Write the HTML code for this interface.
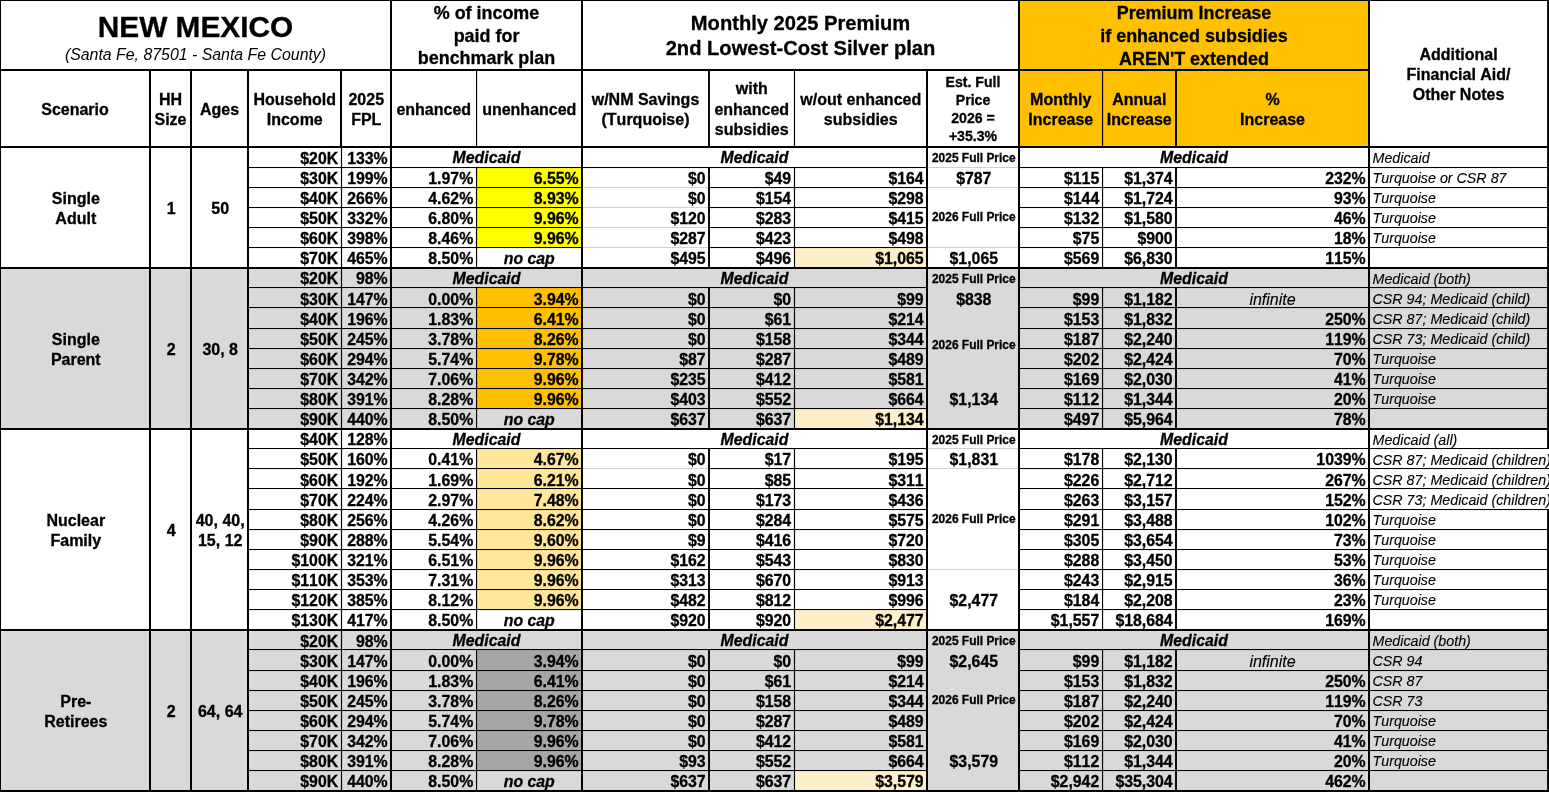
<!DOCTYPE html>
<html><head><meta charset="utf-8"><title>New Mexico</title>
<style>
html,body{margin:0;padding:0;background:#fff}
#p{filter:blur(0.4px);position:relative;width:1549px;height:792px;overflow:hidden;background:#fff;font-family:"Liberation Sans",sans-serif;color:#000}
#p svg{position:absolute;left:0;top:0}
.t{position:absolute;white-space:nowrap;box-sizing:border-box;font-kerning:none;font-variant-ligatures:none}
.b{font-weight:bold;-webkit-text-stroke:0.3px #000}.i{font-style:italic}
.n{-webkit-text-stroke:0.12px #000}
.c{text-align:center}.r{text-align:right}.l{text-align:left}
</style></head><body><div id="p">
<svg width="1549" height="792" viewBox="0 0 1549 792">
<rect x="1019.00" y="0.00" width="350.00" height="146.80" fill="#ffc000"/>
<rect x="476.55" y="167.12" width="105.45" height="80.47" fill="#ffff00"/>
<rect x="794.50" y="247.59" width="132.50" height="20.12" fill="#ffefc8"/>
<rect x="0.00" y="267.70" width="1549.00" height="160.94" fill="#d9d9d9"/>
<rect x="476.55" y="287.82" width="105.45" height="120.70" fill="#ffc000"/>
<rect x="794.50" y="408.52" width="132.50" height="20.12" fill="#ffefc8"/>
<rect x="476.55" y="448.75" width="105.45" height="160.94" fill="#ffe699"/>
<rect x="794.50" y="609.69" width="132.50" height="20.12" fill="#ffefc8"/>
<rect x="0.00" y="629.81" width="1549.00" height="160.94" fill="#d9d9d9"/>
<rect x="476.55" y="649.92" width="105.45" height="120.70" fill="#a6a6a6"/>
<rect x="794.50" y="770.63" width="132.50" height="20.12" fill="#ffefc8"/>
<rect x="582.00" y="187.00" width="127.00" height="1.00" fill="#d0d0d0"/>
<rect x="582.00" y="207.00" width="127.00" height="1.00" fill="#d0d0d0"/>
<rect x="582.00" y="227.00" width="127.00" height="1.00" fill="#d0d0d0"/>
<rect x="582.00" y="247.00" width="127.00" height="1.00" fill="#d0d0d0"/>
<rect x="927.00" y="167.00" width="92.00" height="1.00" fill="#d0d0d0"/>
<rect x="927.00" y="187.00" width="92.00" height="1.00" fill="#d0d0d0"/>
<rect x="927.00" y="247.00" width="92.00" height="1.00" fill="#d0d0d0"/>
<rect x="582.00" y="468.00" width="127.00" height="1.00" fill="#d0d0d0"/>
<rect x="927.00" y="448.00" width="92.00" height="1.00" fill="#d0d0d0"/>
<rect x="927.00" y="468.00" width="92.00" height="1.00" fill="#d0d0d0"/>
<rect x="927.00" y="569.00" width="92.00" height="1.00" fill="#d0d0d0"/>
<rect x="0.00" y="0.00" width="1549.00" height="1.00" fill="#000"/>
<rect x="0.00" y="790.00" width="1549.00" height="2.00" fill="#000"/>
<rect x="0.00" y="0.00" width="1.00" height="792.00" fill="#000"/>
<rect x="1547.10" y="0.00" width="1.90" height="448.75" fill="#000"/>
<rect x="1547.10" y="509.11" width="1.90" height="282.89" fill="#000"/>
<rect x="0.00" y="69.00" width="1369.00" height="2.00" fill="#000"/>
<rect x="0.00" y="146.00" width="1549.00" height="2.00" fill="#000"/>
<rect x="390.00" y="0.00" width="2.00" height="792.00" fill="#000"/>
<rect x="581.00" y="0.00" width="2.00" height="792.00" fill="#000"/>
<rect x="1018.00" y="0.00" width="2.00" height="792.00" fill="#000"/>
<rect x="1368.00" y="0.00" width="2.00" height="792.00" fill="#000"/>
<rect x="149.00" y="69.80" width="2.00" height="722.20" fill="#000"/>
<rect x="190.00" y="69.80" width="2.00" height="722.20" fill="#000"/>
<rect x="247.00" y="69.80" width="2.00" height="722.20" fill="#000"/>
<rect x="926.00" y="69.80" width="2.00" height="722.20" fill="#000"/>
<rect x="340.00" y="69.80" width="2.00" height="77.00" fill="#000"/>
<rect x="340.93" y="146.80" width="1.15" height="645.20" fill="#000"/>
<rect x="475.98" y="69.80" width="1.15" height="77.00" fill="#000"/>
<rect x="708.05" y="69.80" width="1.90" height="77.00" fill="#000"/>
<rect x="793.92" y="69.80" width="1.15" height="77.00" fill="#000"/>
<rect x="1101.97" y="69.80" width="1.15" height="77.00" fill="#000"/>
<rect x="1175.05" y="69.80" width="1.90" height="77.00" fill="#000"/>
<rect x="248.00" y="167.00" width="334.00" height="1.05" fill="#000"/>
<rect x="582.00" y="167.00" width="127.00" height="1.05" fill="#000"/>
<rect x="709.00" y="167.00" width="218.00" height="1.05" fill="#000"/>
<rect x="1019.00" y="167.00" width="530.00" height="1.05" fill="#000"/>
<rect x="248.00" y="187.00" width="334.00" height="1.05" fill="#000"/>
<rect x="709.00" y="187.00" width="218.00" height="1.05" fill="#000"/>
<rect x="1019.00" y="187.00" width="530.00" height="1.05" fill="#000"/>
<rect x="248.00" y="207.00" width="334.00" height="1.05" fill="#000"/>
<rect x="709.00" y="207.00" width="218.00" height="1.05" fill="#000"/>
<rect x="1019.00" y="207.00" width="530.00" height="1.05" fill="#000"/>
<rect x="248.00" y="227.00" width="334.00" height="1.05" fill="#000"/>
<rect x="709.00" y="227.00" width="218.00" height="1.05" fill="#000"/>
<rect x="1019.00" y="227.00" width="530.00" height="1.05" fill="#000"/>
<rect x="248.00" y="247.00" width="334.00" height="1.05" fill="#000"/>
<rect x="709.00" y="247.00" width="218.00" height="1.05" fill="#000"/>
<rect x="1019.00" y="247.00" width="530.00" height="1.05" fill="#000"/>
<rect x="475.98" y="167.12" width="1.15" height="100.59" fill="#000"/>
<rect x="708.05" y="167.12" width="1.90" height="100.59" fill="#000"/>
<rect x="793.92" y="167.12" width="1.15" height="100.59" fill="#000"/>
<rect x="1101.97" y="167.12" width="1.15" height="100.59" fill="#000"/>
<rect x="1175.05" y="167.12" width="1.90" height="100.59" fill="#000"/>
<rect x="0.00" y="267.00" width="1549.00" height="2.00" fill="#000"/>
<rect x="248.00" y="287.00" width="334.00" height="1.05" fill="#000"/>
<rect x="582.00" y="287.00" width="127.00" height="1.05" fill="#000"/>
<rect x="709.00" y="287.00" width="218.00" height="1.05" fill="#000"/>
<rect x="1019.00" y="287.00" width="530.00" height="1.05" fill="#000"/>
<rect x="248.00" y="307.00" width="334.00" height="1.05" fill="#000"/>
<rect x="582.00" y="307.00" width="127.00" height="1.05" fill="#000"/>
<rect x="709.00" y="307.00" width="218.00" height="1.05" fill="#000"/>
<rect x="1019.00" y="307.00" width="530.00" height="1.05" fill="#000"/>
<rect x="248.00" y="328.00" width="334.00" height="1.05" fill="#000"/>
<rect x="582.00" y="328.00" width="127.00" height="1.05" fill="#000"/>
<rect x="709.00" y="328.00" width="218.00" height="1.05" fill="#000"/>
<rect x="1019.00" y="328.00" width="530.00" height="1.05" fill="#000"/>
<rect x="248.00" y="348.00" width="334.00" height="1.05" fill="#000"/>
<rect x="582.00" y="348.00" width="127.00" height="1.05" fill="#000"/>
<rect x="709.00" y="348.00" width="218.00" height="1.05" fill="#000"/>
<rect x="1019.00" y="348.00" width="530.00" height="1.05" fill="#000"/>
<rect x="248.00" y="368.00" width="334.00" height="1.05" fill="#000"/>
<rect x="582.00" y="368.00" width="127.00" height="1.05" fill="#000"/>
<rect x="709.00" y="368.00" width="218.00" height="1.05" fill="#000"/>
<rect x="1019.00" y="368.00" width="530.00" height="1.05" fill="#000"/>
<rect x="248.00" y="388.00" width="334.00" height="1.05" fill="#000"/>
<rect x="582.00" y="388.00" width="127.00" height="1.05" fill="#000"/>
<rect x="709.00" y="388.00" width="218.00" height="1.05" fill="#000"/>
<rect x="1019.00" y="388.00" width="530.00" height="1.05" fill="#000"/>
<rect x="248.00" y="408.00" width="334.00" height="1.05" fill="#000"/>
<rect x="582.00" y="408.00" width="127.00" height="1.05" fill="#000"/>
<rect x="709.00" y="408.00" width="218.00" height="1.05" fill="#000"/>
<rect x="1019.00" y="408.00" width="530.00" height="1.05" fill="#000"/>
<rect x="475.98" y="287.82" width="1.15" height="140.82" fill="#000"/>
<rect x="708.05" y="287.82" width="1.90" height="140.82" fill="#000"/>
<rect x="793.92" y="287.82" width="1.15" height="140.82" fill="#000"/>
<rect x="1101.97" y="287.82" width="1.15" height="140.82" fill="#000"/>
<rect x="1175.05" y="287.82" width="1.90" height="140.82" fill="#000"/>
<rect x="0.00" y="428.00" width="1549.00" height="2.00" fill="#000"/>
<rect x="248.00" y="448.00" width="334.00" height="1.05" fill="#000"/>
<rect x="582.00" y="448.00" width="127.00" height="1.05" fill="#000"/>
<rect x="709.00" y="448.00" width="218.00" height="1.05" fill="#000"/>
<rect x="1019.00" y="448.00" width="530.00" height="1.05" fill="#000"/>
<rect x="248.00" y="468.00" width="334.00" height="1.05" fill="#000"/>
<rect x="709.00" y="468.00" width="218.00" height="1.05" fill="#000"/>
<rect x="1019.00" y="468.00" width="530.00" height="1.05" fill="#000"/>
<rect x="248.00" y="488.00" width="334.00" height="1.05" fill="#000"/>
<rect x="582.00" y="488.00" width="127.00" height="1.05" fill="#000"/>
<rect x="709.00" y="488.00" width="218.00" height="1.05" fill="#000"/>
<rect x="1019.00" y="488.00" width="530.00" height="1.05" fill="#000"/>
<rect x="248.00" y="509.00" width="334.00" height="1.05" fill="#000"/>
<rect x="582.00" y="509.00" width="127.00" height="1.05" fill="#000"/>
<rect x="709.00" y="509.00" width="218.00" height="1.05" fill="#000"/>
<rect x="1019.00" y="509.00" width="530.00" height="1.05" fill="#000"/>
<rect x="248.00" y="529.00" width="334.00" height="1.05" fill="#000"/>
<rect x="582.00" y="529.00" width="127.00" height="1.05" fill="#000"/>
<rect x="709.00" y="529.00" width="218.00" height="1.05" fill="#000"/>
<rect x="1019.00" y="529.00" width="530.00" height="1.05" fill="#000"/>
<rect x="248.00" y="549.00" width="334.00" height="1.05" fill="#000"/>
<rect x="582.00" y="549.00" width="127.00" height="1.05" fill="#000"/>
<rect x="709.00" y="549.00" width="218.00" height="1.05" fill="#000"/>
<rect x="1019.00" y="549.00" width="530.00" height="1.05" fill="#000"/>
<rect x="248.00" y="569.00" width="334.00" height="1.05" fill="#000"/>
<rect x="582.00" y="569.00" width="127.00" height="1.05" fill="#000"/>
<rect x="709.00" y="569.00" width="218.00" height="1.05" fill="#000"/>
<rect x="1019.00" y="569.00" width="530.00" height="1.05" fill="#000"/>
<rect x="248.00" y="589.00" width="334.00" height="1.05" fill="#000"/>
<rect x="582.00" y="589.00" width="127.00" height="1.05" fill="#000"/>
<rect x="709.00" y="589.00" width="218.00" height="1.05" fill="#000"/>
<rect x="1019.00" y="589.00" width="530.00" height="1.05" fill="#000"/>
<rect x="248.00" y="609.00" width="334.00" height="1.05" fill="#000"/>
<rect x="582.00" y="609.00" width="127.00" height="1.05" fill="#000"/>
<rect x="709.00" y="609.00" width="218.00" height="1.05" fill="#000"/>
<rect x="1019.00" y="609.00" width="530.00" height="1.05" fill="#000"/>
<rect x="475.98" y="448.75" width="1.15" height="181.05" fill="#000"/>
<rect x="708.05" y="448.75" width="1.90" height="181.05" fill="#000"/>
<rect x="793.92" y="448.75" width="1.15" height="181.05" fill="#000"/>
<rect x="1101.97" y="448.75" width="1.15" height="181.05" fill="#000"/>
<rect x="1175.05" y="448.75" width="1.90" height="181.05" fill="#000"/>
<rect x="0.00" y="629.00" width="1549.00" height="2.00" fill="#000"/>
<rect x="248.00" y="649.00" width="334.00" height="1.05" fill="#000"/>
<rect x="582.00" y="649.00" width="127.00" height="1.05" fill="#000"/>
<rect x="709.00" y="649.00" width="218.00" height="1.05" fill="#000"/>
<rect x="1019.00" y="649.00" width="530.00" height="1.05" fill="#000"/>
<rect x="248.00" y="670.00" width="334.00" height="1.05" fill="#000"/>
<rect x="582.00" y="670.00" width="127.00" height="1.05" fill="#000"/>
<rect x="709.00" y="670.00" width="218.00" height="1.05" fill="#000"/>
<rect x="1019.00" y="670.00" width="530.00" height="1.05" fill="#000"/>
<rect x="248.00" y="690.00" width="334.00" height="1.05" fill="#000"/>
<rect x="582.00" y="690.00" width="127.00" height="1.05" fill="#000"/>
<rect x="709.00" y="690.00" width="218.00" height="1.05" fill="#000"/>
<rect x="1019.00" y="690.00" width="530.00" height="1.05" fill="#000"/>
<rect x="248.00" y="710.00" width="334.00" height="1.05" fill="#000"/>
<rect x="582.00" y="710.00" width="127.00" height="1.05" fill="#000"/>
<rect x="709.00" y="710.00" width="218.00" height="1.05" fill="#000"/>
<rect x="1019.00" y="710.00" width="530.00" height="1.05" fill="#000"/>
<rect x="248.00" y="730.00" width="334.00" height="1.05" fill="#000"/>
<rect x="582.00" y="730.00" width="127.00" height="1.05" fill="#000"/>
<rect x="709.00" y="730.00" width="218.00" height="1.05" fill="#000"/>
<rect x="1019.00" y="730.00" width="530.00" height="1.05" fill="#000"/>
<rect x="248.00" y="750.00" width="334.00" height="1.05" fill="#000"/>
<rect x="582.00" y="750.00" width="127.00" height="1.05" fill="#000"/>
<rect x="709.00" y="750.00" width="218.00" height="1.05" fill="#000"/>
<rect x="1019.00" y="750.00" width="530.00" height="1.05" fill="#000"/>
<rect x="248.00" y="770.00" width="334.00" height="1.05" fill="#000"/>
<rect x="582.00" y="770.00" width="127.00" height="1.05" fill="#000"/>
<rect x="709.00" y="770.00" width="218.00" height="1.05" fill="#000"/>
<rect x="1019.00" y="770.00" width="530.00" height="1.05" fill="#000"/>
<rect x="475.98" y="649.92" width="1.15" height="140.82" fill="#000"/>
<rect x="708.05" y="649.92" width="1.90" height="140.82" fill="#000"/>
<rect x="793.92" y="649.92" width="1.15" height="140.82" fill="#000"/>
<rect x="1101.97" y="649.92" width="1.15" height="140.82" fill="#000"/>
<rect x="1175.05" y="649.92" width="1.90" height="140.82" fill="#000"/>
</svg>
<div class="t b c" style="left:0.00px;top:9px;width:391.00px;font-size:29.85px;line-height:35px;">NEW MEXICO</div>
<div class="t i c" style="left:0.00px;top:45px;width:391.00px;font-size:15.88px;line-height:19px;">(Santa Fe, 87501 - Santa Fe County)</div>
<div class="t b c" style="left:391.00px;top:2px;width:191.00px;font-size:17.93px;line-height:22px;">% of income</div>
<div class="t b c" style="left:391.00px;top:25px;width:191.00px;font-size:17.93px;line-height:22px;">paid for</div>
<div class="t b c" style="left:391.00px;top:47px;width:191.00px;font-size:17.93px;line-height:22px;">benchmark plan</div>
<div class="t b c" style="left:582.00px;top:11px;width:437.00px;font-size:20.15px;line-height:24px;">Monthly 2025 Premium</div>
<div class="t b c" style="left:582.00px;top:36px;width:437.00px;font-size:20.15px;line-height:24px;">2nd Lowest-Cost Silver plan</div>
<div class="t b c" style="left:1019.00px;top:2px;width:350.00px;font-size:17.97px;line-height:22px;">Premium Increase</div>
<div class="t b c" style="left:1019.00px;top:25px;width:350.00px;font-size:17.97px;line-height:22px;">if enhanced subsidies</div>
<div class="t b c" style="left:1019.00px;top:48px;width:350.00px;font-size:17.97px;line-height:22px;">AREN'T extended</div>
<div class="t b c" style="left:1369.00px;top:45px;width:179.00px;font-size:16.0px;line-height:19px;">Additional</div>
<div class="t b c" style="left:1369.00px;top:65px;width:179.00px;font-size:16.0px;line-height:19px;">Financial Aid/</div>
<div class="t b c" style="left:1369.00px;top:85px;width:179.00px;font-size:16.0px;line-height:19px;">Other Notes</div>
<div class="t b c" style="left:0.00px;top:100px;width:150.00px;font-size:16.0px;line-height:19px;">Scenario</div>
<div class="t b c" style="left:150.00px;top:90px;width:41.00px;font-size:16.0px;line-height:19px;">HH</div>
<div class="t b c" style="left:150.00px;top:110px;width:41.00px;font-size:16.0px;line-height:19px;">Size</div>
<div class="t b c" style="left:191.00px;top:100px;width:57.00px;font-size:16.0px;line-height:19px;">Ages</div>
<div class="t b c" style="left:248.00px;top:90px;width:93.50px;font-size:16.0px;line-height:19px;">Household</div>
<div class="t b c" style="left:248.00px;top:110px;width:93.50px;font-size:16.0px;line-height:19px;">Income</div>
<div class="t b c" style="left:341.50px;top:90px;width:49.50px;font-size:16.0px;line-height:19px;">2025</div>
<div class="t b c" style="left:341.50px;top:110px;width:49.50px;font-size:16.0px;line-height:19px;">FPL</div>
<div class="t b c" style="left:391.00px;top:100px;width:85.55px;font-size:16.0px;line-height:19px;">enhanced</div>
<div class="t b c" style="left:476.55px;top:100px;width:105.45px;font-size:16.0px;line-height:19px;">unenhanced</div>
<div class="t b c" style="left:582.00px;top:90px;width:127.00px;font-size:16.0px;line-height:19px;">w/NM Savings</div>
<div class="t b c" style="left:582.00px;top:110px;width:127.00px;font-size:16.0px;line-height:19px;">(Turquoise)</div>
<div class="t b c" style="left:709.00px;top:79px;width:85.50px;font-size:16.0px;line-height:19px;">with</div>
<div class="t b c" style="left:709.00px;top:100px;width:85.50px;font-size:16.0px;line-height:19px;">enhanced</div>
<div class="t b c" style="left:709.00px;top:120px;width:85.50px;font-size:16.0px;line-height:19px;">subsidies</div>
<div class="t b c" style="left:794.50px;top:90px;width:132.50px;font-size:16.0px;line-height:19px;">w/out enhanced</div>
<div class="t b c" style="left:794.50px;top:110px;width:132.50px;font-size:16.0px;line-height:19px;">subsidies</div>
<div class="t b c" style="left:1019.00px;top:90px;width:83.55px;font-size:16.0px;line-height:19px;">Monthly</div>
<div class="t b c" style="left:1019.00px;top:110px;width:83.55px;font-size:16.0px;line-height:19px;">Increase</div>
<div class="t b c" style="left:1102.55px;top:90px;width:73.45px;font-size:16.0px;line-height:19px;">Annual</div>
<div class="t b c" style="left:1102.55px;top:110px;width:73.45px;font-size:16.0px;line-height:19px;">Increase</div>
<div class="t b c" style="left:1176.00px;top:90px;width:193.00px;font-size:16.0px;line-height:19px;">%</div>
<div class="t b c" style="left:1176.00px;top:110px;width:193.00px;font-size:16.0px;line-height:19px;">Increase</div>
<div class="t b c" style="left:927.00px;top:73px;width:92.00px;font-size:14.1px;line-height:18px;">Est. Full</div>
<div class="t b c" style="left:927.00px;top:91px;width:92.00px;font-size:14.1px;line-height:18px;">Price</div>
<div class="t b c" style="left:927.00px;top:109px;width:92.00px;font-size:14.1px;line-height:18px;">2026 =</div>
<div class="t b c" style="left:927.00px;top:127px;width:92.00px;font-size:14.1px;line-height:18px;">+35.3%</div>
<div class="t b c" style="left:0.80px;top:189px;width:150.00px;font-size:16.0px;line-height:19px;">Single</div>
<div class="t b c" style="left:0.80px;top:209px;width:150.00px;font-size:16.0px;line-height:19px;">Adult</div>
<div class="t b c" style="left:150.80px;top:199px;width:41.00px;font-size:16.0px;line-height:19px;">1</div>
<div class="t b c" style="left:191.70px;top:199px;width:57.00px;font-size:16.0px;line-height:19px;">50</div>
<div class="t b r" style="left:248.00px;top:149px;width:90.20px;font-size:15.85px;line-height:19px;">$20K</div>
<div class="t b r" style="left:341.50px;top:149px;width:46.20px;font-size:15.85px;line-height:19px;">133%</div>
<div class="t b i c" style="left:391.00px;top:148px;width:191.00px;font-size:15.85px;line-height:19px;">Medicaid</div>
<div class="t b i c" style="left:582.00px;top:148px;width:345.00px;font-size:15.85px;line-height:19px;">Medicaid</div>
<div class="t b i c" style="left:1019.00px;top:148px;width:350.00px;font-size:15.85px;line-height:19px;">Medicaid</div>
<div class="t i l n" style="left:1372.50px;top:149px;width:176.50px;font-size:14.28px;line-height:18px;">Medicaid</div>
<div class="t b r" style="left:248.00px;top:169px;width:90.20px;font-size:15.85px;line-height:19px;">$30K</div>
<div class="t b r" style="left:341.50px;top:169px;width:46.20px;font-size:15.85px;line-height:19px;">199%</div>
<div class="t b r" style="left:391.00px;top:169px;width:82.25px;font-size:15.85px;line-height:19px;">1.97%</div>
<div class="t b r" style="left:476.55px;top:169px;width:102.15px;font-size:15.85px;line-height:19px;">6.55%</div>
<div class="t b r" style="left:582.00px;top:169px;width:123.70px;font-size:15.85px;line-height:19px;">$0</div>
<div class="t b r" style="left:709.00px;top:169px;width:82.20px;font-size:15.85px;line-height:19px;">$49</div>
<div class="t b r" style="left:794.50px;top:169px;width:129.20px;font-size:15.85px;line-height:19px;">$164</div>
<div class="t b r" style="left:1019.00px;top:169px;width:80.25px;font-size:15.85px;line-height:19px;">$115</div>
<div class="t b r" style="left:1102.55px;top:169px;width:70.15px;font-size:15.85px;line-height:19px;">$1,374</div>
<div class="t b r" style="left:1176.00px;top:169px;width:189.70px;font-size:15.85px;line-height:19px;">232%</div>
<div class="t i l n" style="left:1372.50px;top:169px;width:236.50px;font-size:14.28px;line-height:18px;">Turquoise or CSR 87</div>
<div class="t b r" style="left:248.00px;top:189px;width:90.20px;font-size:15.85px;line-height:19px;">$40K</div>
<div class="t b r" style="left:341.50px;top:189px;width:46.20px;font-size:15.85px;line-height:19px;">266%</div>
<div class="t b r" style="left:391.00px;top:189px;width:82.25px;font-size:15.85px;line-height:19px;">4.62%</div>
<div class="t b r" style="left:476.55px;top:189px;width:102.15px;font-size:15.85px;line-height:19px;">8.93%</div>
<div class="t b r" style="left:582.00px;top:189px;width:123.70px;font-size:15.85px;line-height:19px;">$0</div>
<div class="t b r" style="left:709.00px;top:189px;width:82.20px;font-size:15.85px;line-height:19px;">$154</div>
<div class="t b r" style="left:794.50px;top:189px;width:129.20px;font-size:15.85px;line-height:19px;">$298</div>
<div class="t b r" style="left:1019.00px;top:189px;width:80.25px;font-size:15.85px;line-height:19px;">$144</div>
<div class="t b r" style="left:1102.55px;top:189px;width:70.15px;font-size:15.85px;line-height:19px;">$1,724</div>
<div class="t b r" style="left:1176.00px;top:189px;width:189.70px;font-size:15.85px;line-height:19px;">93%</div>
<div class="t i l n" style="left:1372.50px;top:189px;width:236.50px;font-size:14.28px;line-height:18px;">Turquoise</div>
<div class="t b r" style="left:248.00px;top:209px;width:90.20px;font-size:15.85px;line-height:19px;">$50K</div>
<div class="t b r" style="left:341.50px;top:209px;width:46.20px;font-size:15.85px;line-height:19px;">332%</div>
<div class="t b r" style="left:391.00px;top:209px;width:82.25px;font-size:15.85px;line-height:19px;">6.80%</div>
<div class="t b r" style="left:476.55px;top:209px;width:102.15px;font-size:15.85px;line-height:19px;">9.96%</div>
<div class="t b r" style="left:582.00px;top:209px;width:123.70px;font-size:15.85px;line-height:19px;">$120</div>
<div class="t b r" style="left:709.00px;top:209px;width:82.20px;font-size:15.85px;line-height:19px;">$283</div>
<div class="t b r" style="left:794.50px;top:209px;width:129.20px;font-size:15.85px;line-height:19px;">$415</div>
<div class="t b r" style="left:1019.00px;top:209px;width:80.25px;font-size:15.85px;line-height:19px;">$132</div>
<div class="t b r" style="left:1102.55px;top:209px;width:70.15px;font-size:15.85px;line-height:19px;">$1,580</div>
<div class="t b r" style="left:1176.00px;top:209px;width:189.70px;font-size:15.85px;line-height:19px;">46%</div>
<div class="t i l n" style="left:1372.50px;top:209px;width:236.50px;font-size:14.28px;line-height:18px;">Turquoise</div>
<div class="t b r" style="left:248.00px;top:229px;width:90.20px;font-size:15.85px;line-height:19px;">$60K</div>
<div class="t b r" style="left:341.50px;top:229px;width:46.20px;font-size:15.85px;line-height:19px;">398%</div>
<div class="t b r" style="left:391.00px;top:229px;width:82.25px;font-size:15.85px;line-height:19px;">8.46%</div>
<div class="t b r" style="left:476.55px;top:229px;width:102.15px;font-size:15.85px;line-height:19px;">9.96%</div>
<div class="t b r" style="left:582.00px;top:229px;width:123.70px;font-size:15.85px;line-height:19px;">$287</div>
<div class="t b r" style="left:709.00px;top:229px;width:82.20px;font-size:15.85px;line-height:19px;">$423</div>
<div class="t b r" style="left:794.50px;top:229px;width:129.20px;font-size:15.85px;line-height:19px;">$498</div>
<div class="t b r" style="left:1019.00px;top:229px;width:80.25px;font-size:15.85px;line-height:19px;">$75</div>
<div class="t b r" style="left:1102.55px;top:229px;width:70.15px;font-size:15.85px;line-height:19px;">$900</div>
<div class="t b r" style="left:1176.00px;top:229px;width:189.70px;font-size:15.85px;line-height:19px;">18%</div>
<div class="t i l n" style="left:1372.50px;top:229px;width:236.50px;font-size:14.28px;line-height:18px;">Turquoise</div>
<div class="t b r" style="left:248.00px;top:249px;width:90.20px;font-size:15.85px;line-height:19px;">$70K</div>
<div class="t b r" style="left:341.50px;top:249px;width:46.20px;font-size:15.85px;line-height:19px;">465%</div>
<div class="t b r" style="left:391.00px;top:249px;width:82.25px;font-size:15.85px;line-height:19px;">8.50%</div>
<div class="t b i c" style="left:476.55px;top:249px;width:105.45px;font-size:15.85px;line-height:19px;">no cap</div>
<div class="t b r" style="left:582.00px;top:249px;width:123.70px;font-size:15.85px;line-height:19px;">$495</div>
<div class="t b r" style="left:709.00px;top:249px;width:82.20px;font-size:15.85px;line-height:19px;">$496</div>
<div class="t b r" style="left:794.50px;top:249px;width:129.20px;font-size:15.85px;line-height:19px;">$1,065</div>
<div class="t b r" style="left:1019.00px;top:249px;width:80.25px;font-size:15.85px;line-height:19px;">$569</div>
<div class="t b r" style="left:1102.55px;top:249px;width:70.15px;font-size:15.85px;line-height:19px;">$6,830</div>
<div class="t b r" style="left:1176.00px;top:249px;width:189.70px;font-size:15.85px;line-height:19px;">115%</div>
<div class="t b c" style="left:927.80px;top:150px;width:92.00px;font-size:11.95px;line-height:16px;">2025 Full Price</div>
<div class="t b c" style="left:927.80px;top:169px;width:92.00px;font-size:15.85px;line-height:19px;">$787</div>
<div class="t b c" style="left:927.80px;top:209px;width:92.00px;font-size:11.95px;line-height:16px;">2026 Full Price</div>
<div class="t b c" style="left:927.80px;top:249px;width:92.00px;font-size:15.85px;line-height:19px;">$1,065</div>
<div class="t b c" style="left:0.80px;top:330px;width:150.00px;font-size:16.0px;line-height:19px;">Single</div>
<div class="t b c" style="left:0.80px;top:350px;width:150.00px;font-size:16.0px;line-height:19px;">Parent</div>
<div class="t b c" style="left:150.80px;top:340px;width:41.00px;font-size:16.0px;line-height:19px;">2</div>
<div class="t b c" style="left:191.70px;top:340px;width:57.00px;font-size:16.0px;line-height:19px;">30, 8</div>
<div class="t b r" style="left:248.00px;top:269px;width:90.20px;font-size:15.85px;line-height:19px;">$20K</div>
<div class="t b r" style="left:341.50px;top:269px;width:46.20px;font-size:15.85px;line-height:19px;">98%</div>
<div class="t b i c" style="left:391.00px;top:269px;width:191.00px;font-size:15.85px;line-height:19px;">Medicaid</div>
<div class="t b i c" style="left:582.00px;top:269px;width:345.00px;font-size:15.85px;line-height:19px;">Medicaid</div>
<div class="t b i c" style="left:1019.00px;top:269px;width:350.00px;font-size:15.85px;line-height:19px;">Medicaid</div>
<div class="t i l n" style="left:1372.50px;top:270px;width:176.50px;font-size:14.28px;line-height:18px;">Medicaid (both)</div>
<div class="t b r" style="left:248.00px;top:290px;width:90.20px;font-size:15.85px;line-height:19px;">$30K</div>
<div class="t b r" style="left:341.50px;top:290px;width:46.20px;font-size:15.85px;line-height:19px;">147%</div>
<div class="t b r" style="left:391.00px;top:290px;width:82.25px;font-size:15.85px;line-height:19px;">0.00%</div>
<div class="t b r" style="left:476.55px;top:290px;width:102.15px;font-size:15.85px;line-height:19px;">3.94%</div>
<div class="t b r" style="left:582.00px;top:290px;width:123.70px;font-size:15.85px;line-height:19px;">$0</div>
<div class="t b r" style="left:709.00px;top:290px;width:82.20px;font-size:15.85px;line-height:19px;">$0</div>
<div class="t b r" style="left:794.50px;top:290px;width:129.20px;font-size:15.85px;line-height:19px;">$99</div>
<div class="t b r" style="left:1019.00px;top:290px;width:80.25px;font-size:15.85px;line-height:19px;">$99</div>
<div class="t b r" style="left:1102.55px;top:290px;width:70.15px;font-size:15.85px;line-height:19px;">$1,182</div>
<div class="t i c n" style="left:1176.00px;top:290px;width:193.00px;font-size:16.0px;line-height:19px;">infinite</div>
<div class="t i l n" style="left:1372.50px;top:290px;width:236.50px;font-size:14.28px;line-height:18px;">CSR 94; Medicaid (child)</div>
<div class="t b r" style="left:248.00px;top:310px;width:90.20px;font-size:15.85px;line-height:19px;">$40K</div>
<div class="t b r" style="left:341.50px;top:310px;width:46.20px;font-size:15.85px;line-height:19px;">196%</div>
<div class="t b r" style="left:391.00px;top:310px;width:82.25px;font-size:15.85px;line-height:19px;">1.83%</div>
<div class="t b r" style="left:476.55px;top:310px;width:102.15px;font-size:15.85px;line-height:19px;">6.41%</div>
<div class="t b r" style="left:582.00px;top:310px;width:123.70px;font-size:15.85px;line-height:19px;">$0</div>
<div class="t b r" style="left:709.00px;top:310px;width:82.20px;font-size:15.85px;line-height:19px;">$61</div>
<div class="t b r" style="left:794.50px;top:310px;width:129.20px;font-size:15.85px;line-height:19px;">$214</div>
<div class="t b r" style="left:1019.00px;top:310px;width:80.25px;font-size:15.85px;line-height:19px;">$153</div>
<div class="t b r" style="left:1102.55px;top:310px;width:70.15px;font-size:15.85px;line-height:19px;">$1,832</div>
<div class="t b r" style="left:1176.00px;top:310px;width:189.70px;font-size:15.85px;line-height:19px;">250%</div>
<div class="t i l n" style="left:1372.50px;top:310px;width:236.50px;font-size:14.28px;line-height:18px;">CSR 87; Medicaid (child)</div>
<div class="t b r" style="left:248.00px;top:330px;width:90.20px;font-size:15.85px;line-height:19px;">$50K</div>
<div class="t b r" style="left:341.50px;top:330px;width:46.20px;font-size:15.85px;line-height:19px;">245%</div>
<div class="t b r" style="left:391.00px;top:330px;width:82.25px;font-size:15.85px;line-height:19px;">3.78%</div>
<div class="t b r" style="left:476.55px;top:330px;width:102.15px;font-size:15.85px;line-height:19px;">8.26%</div>
<div class="t b r" style="left:582.00px;top:330px;width:123.70px;font-size:15.85px;line-height:19px;">$0</div>
<div class="t b r" style="left:709.00px;top:330px;width:82.20px;font-size:15.85px;line-height:19px;">$158</div>
<div class="t b r" style="left:794.50px;top:330px;width:129.20px;font-size:15.85px;line-height:19px;">$344</div>
<div class="t b r" style="left:1019.00px;top:330px;width:80.25px;font-size:15.85px;line-height:19px;">$187</div>
<div class="t b r" style="left:1102.55px;top:330px;width:70.15px;font-size:15.85px;line-height:19px;">$2,240</div>
<div class="t b r" style="left:1176.00px;top:330px;width:189.70px;font-size:15.85px;line-height:19px;">119%</div>
<div class="t i l n" style="left:1372.50px;top:330px;width:236.50px;font-size:14.28px;line-height:18px;">CSR 73; Medicaid (child)</div>
<div class="t b r" style="left:248.00px;top:350px;width:90.20px;font-size:15.85px;line-height:19px;">$60K</div>
<div class="t b r" style="left:341.50px;top:350px;width:46.20px;font-size:15.85px;line-height:19px;">294%</div>
<div class="t b r" style="left:391.00px;top:350px;width:82.25px;font-size:15.85px;line-height:19px;">5.74%</div>
<div class="t b r" style="left:476.55px;top:350px;width:102.15px;font-size:15.85px;line-height:19px;">9.78%</div>
<div class="t b r" style="left:582.00px;top:350px;width:123.70px;font-size:15.85px;line-height:19px;">$87</div>
<div class="t b r" style="left:709.00px;top:350px;width:82.20px;font-size:15.85px;line-height:19px;">$287</div>
<div class="t b r" style="left:794.50px;top:350px;width:129.20px;font-size:15.85px;line-height:19px;">$489</div>
<div class="t b r" style="left:1019.00px;top:350px;width:80.25px;font-size:15.85px;line-height:19px;">$202</div>
<div class="t b r" style="left:1102.55px;top:350px;width:70.15px;font-size:15.85px;line-height:19px;">$2,424</div>
<div class="t b r" style="left:1176.00px;top:350px;width:189.70px;font-size:15.85px;line-height:19px;">70%</div>
<div class="t i l n" style="left:1372.50px;top:350px;width:236.50px;font-size:14.28px;line-height:18px;">Turquoise</div>
<div class="t b r" style="left:248.00px;top:370px;width:90.20px;font-size:15.85px;line-height:19px;">$70K</div>
<div class="t b r" style="left:341.50px;top:370px;width:46.20px;font-size:15.85px;line-height:19px;">342%</div>
<div class="t b r" style="left:391.00px;top:370px;width:82.25px;font-size:15.85px;line-height:19px;">7.06%</div>
<div class="t b r" style="left:476.55px;top:370px;width:102.15px;font-size:15.85px;line-height:19px;">9.96%</div>
<div class="t b r" style="left:582.00px;top:370px;width:123.70px;font-size:15.85px;line-height:19px;">$235</div>
<div class="t b r" style="left:709.00px;top:370px;width:82.20px;font-size:15.85px;line-height:19px;">$412</div>
<div class="t b r" style="left:794.50px;top:370px;width:129.20px;font-size:15.85px;line-height:19px;">$581</div>
<div class="t b r" style="left:1019.00px;top:370px;width:80.25px;font-size:15.85px;line-height:19px;">$169</div>
<div class="t b r" style="left:1102.55px;top:370px;width:70.15px;font-size:15.85px;line-height:19px;">$2,030</div>
<div class="t b r" style="left:1176.00px;top:370px;width:189.70px;font-size:15.85px;line-height:19px;">41%</div>
<div class="t i l n" style="left:1372.50px;top:370px;width:236.50px;font-size:14.28px;line-height:18px;">Turquoise</div>
<div class="t b r" style="left:248.00px;top:390px;width:90.20px;font-size:15.85px;line-height:19px;">$80K</div>
<div class="t b r" style="left:341.50px;top:390px;width:46.20px;font-size:15.85px;line-height:19px;">391%</div>
<div class="t b r" style="left:391.00px;top:390px;width:82.25px;font-size:15.85px;line-height:19px;">8.28%</div>
<div class="t b r" style="left:476.55px;top:390px;width:102.15px;font-size:15.85px;line-height:19px;">9.96%</div>
<div class="t b r" style="left:582.00px;top:390px;width:123.70px;font-size:15.85px;line-height:19px;">$403</div>
<div class="t b r" style="left:709.00px;top:390px;width:82.20px;font-size:15.85px;line-height:19px;">$552</div>
<div class="t b r" style="left:794.50px;top:390px;width:129.20px;font-size:15.85px;line-height:19px;">$664</div>
<div class="t b r" style="left:1019.00px;top:390px;width:80.25px;font-size:15.85px;line-height:19px;">$112</div>
<div class="t b r" style="left:1102.55px;top:390px;width:70.15px;font-size:15.85px;line-height:19px;">$1,344</div>
<div class="t b r" style="left:1176.00px;top:390px;width:189.70px;font-size:15.85px;line-height:19px;">20%</div>
<div class="t i l n" style="left:1372.50px;top:390px;width:236.50px;font-size:14.28px;line-height:18px;">Turquoise</div>
<div class="t b r" style="left:248.00px;top:410px;width:90.20px;font-size:15.85px;line-height:19px;">$90K</div>
<div class="t b r" style="left:341.50px;top:410px;width:46.20px;font-size:15.85px;line-height:19px;">440%</div>
<div class="t b r" style="left:391.00px;top:410px;width:82.25px;font-size:15.85px;line-height:19px;">8.50%</div>
<div class="t b i c" style="left:476.55px;top:410px;width:105.45px;font-size:15.85px;line-height:19px;">no cap</div>
<div class="t b r" style="left:582.00px;top:410px;width:123.70px;font-size:15.85px;line-height:19px;">$637</div>
<div class="t b r" style="left:709.00px;top:410px;width:82.20px;font-size:15.85px;line-height:19px;">$637</div>
<div class="t b r" style="left:794.50px;top:410px;width:129.20px;font-size:15.85px;line-height:19px;">$1,134</div>
<div class="t b r" style="left:1019.00px;top:410px;width:80.25px;font-size:15.85px;line-height:19px;">$497</div>
<div class="t b r" style="left:1102.55px;top:410px;width:70.15px;font-size:15.85px;line-height:19px;">$5,964</div>
<div class="t b r" style="left:1176.00px;top:410px;width:189.70px;font-size:15.85px;line-height:19px;">78%</div>
<div class="t b c" style="left:927.80px;top:271px;width:92.00px;font-size:11.95px;line-height:16px;">2025 Full Price</div>
<div class="t b c" style="left:927.80px;top:290px;width:92.00px;font-size:15.85px;line-height:19px;">$838</div>
<div class="t b c" style="left:927.80px;top:337px;width:92.00px;font-size:11.95px;line-height:16px;">2026 Full Price</div>
<div class="t b c" style="left:927.80px;top:390px;width:92.00px;font-size:15.85px;line-height:19px;">$1,134</div>
<div class="t b c" style="left:0.80px;top:511px;width:150.00px;font-size:16.0px;line-height:19px;">Nuclear</div>
<div class="t b c" style="left:0.80px;top:531px;width:150.00px;font-size:16.0px;line-height:19px;">Family</div>
<div class="t b c" style="left:150.80px;top:521px;width:41.00px;font-size:16.0px;line-height:19px;">4</div>
<div class="t b c" style="left:191.70px;top:511px;width:57.00px;font-size:16.0px;line-height:19px;">40, 40,</div>
<div class="t b c" style="left:191.70px;top:531px;width:57.00px;font-size:16.0px;line-height:19px;">15, 12</div>
<div class="t b r" style="left:248.00px;top:430px;width:90.20px;font-size:15.85px;line-height:19px;">$40K</div>
<div class="t b r" style="left:341.50px;top:430px;width:46.20px;font-size:15.85px;line-height:19px;">128%</div>
<div class="t b i c" style="left:391.00px;top:430px;width:191.00px;font-size:15.85px;line-height:19px;">Medicaid</div>
<div class="t b i c" style="left:582.00px;top:430px;width:345.00px;font-size:15.85px;line-height:19px;">Medicaid</div>
<div class="t b i c" style="left:1019.00px;top:430px;width:350.00px;font-size:15.85px;line-height:19px;">Medicaid</div>
<div class="t i l n" style="left:1372.50px;top:431px;width:176.50px;font-size:14.28px;line-height:18px;">Medicaid (all)</div>
<div class="t b r" style="left:248.00px;top:450px;width:90.20px;font-size:15.85px;line-height:19px;">$50K</div>
<div class="t b r" style="left:341.50px;top:450px;width:46.20px;font-size:15.85px;line-height:19px;">160%</div>
<div class="t b r" style="left:391.00px;top:450px;width:82.25px;font-size:15.85px;line-height:19px;">0.41%</div>
<div class="t b r" style="left:476.55px;top:450px;width:102.15px;font-size:15.85px;line-height:19px;">4.67%</div>
<div class="t b r" style="left:582.00px;top:450px;width:123.70px;font-size:15.85px;line-height:19px;">$0</div>
<div class="t b r" style="left:709.00px;top:450px;width:82.20px;font-size:15.85px;line-height:19px;">$17</div>
<div class="t b r" style="left:794.50px;top:450px;width:129.20px;font-size:15.85px;line-height:19px;">$195</div>
<div class="t b r" style="left:1019.00px;top:450px;width:80.25px;font-size:15.85px;line-height:19px;">$178</div>
<div class="t b r" style="left:1102.55px;top:450px;width:70.15px;font-size:15.85px;line-height:19px;">$2,130</div>
<div class="t b r" style="left:1176.00px;top:450px;width:189.70px;font-size:15.85px;line-height:19px;">1039%</div>
<div class="t i l n" style="left:1372.50px;top:451px;width:236.50px;font-size:14.28px;line-height:18px;">CSR 87; Medicaid (children)</div>
<div class="t b r" style="left:248.00px;top:471px;width:90.20px;font-size:15.85px;line-height:19px;">$60K</div>
<div class="t b r" style="left:341.50px;top:471px;width:46.20px;font-size:15.85px;line-height:19px;">192%</div>
<div class="t b r" style="left:391.00px;top:471px;width:82.25px;font-size:15.85px;line-height:19px;">1.69%</div>
<div class="t b r" style="left:476.55px;top:471px;width:102.15px;font-size:15.85px;line-height:19px;">6.21%</div>
<div class="t b r" style="left:582.00px;top:471px;width:123.70px;font-size:15.85px;line-height:19px;">$0</div>
<div class="t b r" style="left:709.00px;top:471px;width:82.20px;font-size:15.85px;line-height:19px;">$85</div>
<div class="t b r" style="left:794.50px;top:471px;width:129.20px;font-size:15.85px;line-height:19px;">$311</div>
<div class="t b r" style="left:1019.00px;top:471px;width:80.25px;font-size:15.85px;line-height:19px;">$226</div>
<div class="t b r" style="left:1102.55px;top:471px;width:70.15px;font-size:15.85px;line-height:19px;">$2,712</div>
<div class="t b r" style="left:1176.00px;top:471px;width:189.70px;font-size:15.85px;line-height:19px;">267%</div>
<div class="t i l n" style="left:1372.50px;top:471px;width:236.50px;font-size:14.28px;line-height:18px;">CSR 87; Medicaid (children)</div>
<div class="t b r" style="left:248.00px;top:491px;width:90.20px;font-size:15.85px;line-height:19px;">$70K</div>
<div class="t b r" style="left:341.50px;top:491px;width:46.20px;font-size:15.85px;line-height:19px;">224%</div>
<div class="t b r" style="left:391.00px;top:491px;width:82.25px;font-size:15.85px;line-height:19px;">2.97%</div>
<div class="t b r" style="left:476.55px;top:491px;width:102.15px;font-size:15.85px;line-height:19px;">7.48%</div>
<div class="t b r" style="left:582.00px;top:491px;width:123.70px;font-size:15.85px;line-height:19px;">$0</div>
<div class="t b r" style="left:709.00px;top:491px;width:82.20px;font-size:15.85px;line-height:19px;">$173</div>
<div class="t b r" style="left:794.50px;top:491px;width:129.20px;font-size:15.85px;line-height:19px;">$436</div>
<div class="t b r" style="left:1019.00px;top:491px;width:80.25px;font-size:15.85px;line-height:19px;">$263</div>
<div class="t b r" style="left:1102.55px;top:491px;width:70.15px;font-size:15.85px;line-height:19px;">$3,157</div>
<div class="t b r" style="left:1176.00px;top:491px;width:189.70px;font-size:15.85px;line-height:19px;">152%</div>
<div class="t i l n" style="left:1372.50px;top:491px;width:236.50px;font-size:14.28px;line-height:18px;">CSR 73; Medicaid (children)</div>
<div class="t b r" style="left:248.00px;top:511px;width:90.20px;font-size:15.85px;line-height:19px;">$80K</div>
<div class="t b r" style="left:341.50px;top:511px;width:46.20px;font-size:15.85px;line-height:19px;">256%</div>
<div class="t b r" style="left:391.00px;top:511px;width:82.25px;font-size:15.85px;line-height:19px;">4.26%</div>
<div class="t b r" style="left:476.55px;top:511px;width:102.15px;font-size:15.85px;line-height:19px;">8.62%</div>
<div class="t b r" style="left:582.00px;top:511px;width:123.70px;font-size:15.85px;line-height:19px;">$0</div>
<div class="t b r" style="left:709.00px;top:511px;width:82.20px;font-size:15.85px;line-height:19px;">$284</div>
<div class="t b r" style="left:794.50px;top:511px;width:129.20px;font-size:15.85px;line-height:19px;">$575</div>
<div class="t b r" style="left:1019.00px;top:511px;width:80.25px;font-size:15.85px;line-height:19px;">$291</div>
<div class="t b r" style="left:1102.55px;top:511px;width:70.15px;font-size:15.85px;line-height:19px;">$3,488</div>
<div class="t b r" style="left:1176.00px;top:511px;width:189.70px;font-size:15.85px;line-height:19px;">102%</div>
<div class="t i l n" style="left:1372.50px;top:511px;width:236.50px;font-size:14.28px;line-height:18px;">Turquoise</div>
<div class="t b r" style="left:248.00px;top:531px;width:90.20px;font-size:15.85px;line-height:19px;">$90K</div>
<div class="t b r" style="left:341.50px;top:531px;width:46.20px;font-size:15.85px;line-height:19px;">288%</div>
<div class="t b r" style="left:391.00px;top:531px;width:82.25px;font-size:15.85px;line-height:19px;">5.54%</div>
<div class="t b r" style="left:476.55px;top:531px;width:102.15px;font-size:15.85px;line-height:19px;">9.60%</div>
<div class="t b r" style="left:582.00px;top:531px;width:123.70px;font-size:15.85px;line-height:19px;">$9</div>
<div class="t b r" style="left:709.00px;top:531px;width:82.20px;font-size:15.85px;line-height:19px;">$416</div>
<div class="t b r" style="left:794.50px;top:531px;width:129.20px;font-size:15.85px;line-height:19px;">$720</div>
<div class="t b r" style="left:1019.00px;top:531px;width:80.25px;font-size:15.85px;line-height:19px;">$305</div>
<div class="t b r" style="left:1102.55px;top:531px;width:70.15px;font-size:15.85px;line-height:19px;">$3,654</div>
<div class="t b r" style="left:1176.00px;top:531px;width:189.70px;font-size:15.85px;line-height:19px;">73%</div>
<div class="t i l n" style="left:1372.50px;top:531px;width:236.50px;font-size:14.28px;line-height:18px;">Turquoise</div>
<div class="t b r" style="left:248.00px;top:551px;width:90.20px;font-size:15.85px;line-height:19px;">$100K</div>
<div class="t b r" style="left:341.50px;top:551px;width:46.20px;font-size:15.85px;line-height:19px;">321%</div>
<div class="t b r" style="left:391.00px;top:551px;width:82.25px;font-size:15.85px;line-height:19px;">6.51%</div>
<div class="t b r" style="left:476.55px;top:551px;width:102.15px;font-size:15.85px;line-height:19px;">9.96%</div>
<div class="t b r" style="left:582.00px;top:551px;width:123.70px;font-size:15.85px;line-height:19px;">$162</div>
<div class="t b r" style="left:709.00px;top:551px;width:82.20px;font-size:15.85px;line-height:19px;">$543</div>
<div class="t b r" style="left:794.50px;top:551px;width:129.20px;font-size:15.85px;line-height:19px;">$830</div>
<div class="t b r" style="left:1019.00px;top:551px;width:80.25px;font-size:15.85px;line-height:19px;">$288</div>
<div class="t b r" style="left:1102.55px;top:551px;width:70.15px;font-size:15.85px;line-height:19px;">$3,450</div>
<div class="t b r" style="left:1176.00px;top:551px;width:189.70px;font-size:15.85px;line-height:19px;">53%</div>
<div class="t i l n" style="left:1372.50px;top:551px;width:236.50px;font-size:14.28px;line-height:18px;">Turquoise</div>
<div class="t b r" style="left:248.00px;top:571px;width:90.20px;font-size:15.85px;line-height:19px;">$110K</div>
<div class="t b r" style="left:341.50px;top:571px;width:46.20px;font-size:15.85px;line-height:19px;">353%</div>
<div class="t b r" style="left:391.00px;top:571px;width:82.25px;font-size:15.85px;line-height:19px;">7.31%</div>
<div class="t b r" style="left:476.55px;top:571px;width:102.15px;font-size:15.85px;line-height:19px;">9.96%</div>
<div class="t b r" style="left:582.00px;top:571px;width:123.70px;font-size:15.85px;line-height:19px;">$313</div>
<div class="t b r" style="left:709.00px;top:571px;width:82.20px;font-size:15.85px;line-height:19px;">$670</div>
<div class="t b r" style="left:794.50px;top:571px;width:129.20px;font-size:15.85px;line-height:19px;">$913</div>
<div class="t b r" style="left:1019.00px;top:571px;width:80.25px;font-size:15.85px;line-height:19px;">$243</div>
<div class="t b r" style="left:1102.55px;top:571px;width:70.15px;font-size:15.85px;line-height:19px;">$2,915</div>
<div class="t b r" style="left:1176.00px;top:571px;width:189.70px;font-size:15.85px;line-height:19px;">36%</div>
<div class="t i l n" style="left:1372.50px;top:571px;width:236.50px;font-size:14.28px;line-height:18px;">Turquoise</div>
<div class="t b r" style="left:248.00px;top:591px;width:90.20px;font-size:15.85px;line-height:19px;">$120K</div>
<div class="t b r" style="left:341.50px;top:591px;width:46.20px;font-size:15.85px;line-height:19px;">385%</div>
<div class="t b r" style="left:391.00px;top:591px;width:82.25px;font-size:15.85px;line-height:19px;">8.12%</div>
<div class="t b r" style="left:476.55px;top:591px;width:102.15px;font-size:15.85px;line-height:19px;">9.96%</div>
<div class="t b r" style="left:582.00px;top:591px;width:123.70px;font-size:15.85px;line-height:19px;">$482</div>
<div class="t b r" style="left:709.00px;top:591px;width:82.20px;font-size:15.85px;line-height:19px;">$812</div>
<div class="t b r" style="left:794.50px;top:591px;width:129.20px;font-size:15.85px;line-height:19px;">$996</div>
<div class="t b r" style="left:1019.00px;top:591px;width:80.25px;font-size:15.85px;line-height:19px;">$184</div>
<div class="t b r" style="left:1102.55px;top:591px;width:70.15px;font-size:15.85px;line-height:19px;">$2,208</div>
<div class="t b r" style="left:1176.00px;top:591px;width:189.70px;font-size:15.85px;line-height:19px;">23%</div>
<div class="t i l n" style="left:1372.50px;top:591px;width:236.50px;font-size:14.28px;line-height:18px;">Turquoise</div>
<div class="t b r" style="left:248.00px;top:611px;width:90.20px;font-size:15.85px;line-height:19px;">$130K</div>
<div class="t b r" style="left:341.50px;top:611px;width:46.20px;font-size:15.85px;line-height:19px;">417%</div>
<div class="t b r" style="left:391.00px;top:611px;width:82.25px;font-size:15.85px;line-height:19px;">8.50%</div>
<div class="t b i c" style="left:476.55px;top:611px;width:105.45px;font-size:15.85px;line-height:19px;">no cap</div>
<div class="t b r" style="left:582.00px;top:611px;width:123.70px;font-size:15.85px;line-height:19px;">$920</div>
<div class="t b r" style="left:709.00px;top:611px;width:82.20px;font-size:15.85px;line-height:19px;">$920</div>
<div class="t b r" style="left:794.50px;top:611px;width:129.20px;font-size:15.85px;line-height:19px;">$2,477</div>
<div class="t b r" style="left:1019.00px;top:611px;width:80.25px;font-size:15.85px;line-height:19px;">$1,557</div>
<div class="t b r" style="left:1102.55px;top:611px;width:70.15px;font-size:15.85px;line-height:19px;">$18,684</div>
<div class="t b r" style="left:1176.00px;top:611px;width:189.70px;font-size:15.85px;line-height:19px;">169%</div>
<div class="t b c" style="left:927.80px;top:432px;width:92.00px;font-size:11.95px;line-height:16px;">2025 Full Price</div>
<div class="t b c" style="left:927.80px;top:450px;width:92.00px;font-size:15.85px;line-height:19px;">$1,831</div>
<div class="t b c" style="left:927.80px;top:511px;width:92.00px;font-size:11.95px;line-height:16px;">2026 Full Price</div>
<div class="t b c" style="left:927.80px;top:591px;width:92.00px;font-size:15.85px;line-height:19px;">$2,477</div>
<div class="t b c" style="left:0.80px;top:692px;width:150.00px;font-size:16.0px;line-height:19px;">Pre-</div>
<div class="t b c" style="left:0.80px;top:712px;width:150.00px;font-size:16.0px;line-height:19px;">Retirees</div>
<div class="t b c" style="left:150.80px;top:702px;width:41.00px;font-size:16.0px;line-height:19px;">2</div>
<div class="t b c" style="left:191.70px;top:702px;width:57.00px;font-size:16.0px;line-height:19px;">64, 64</div>
<div class="t b r" style="left:248.00px;top:632px;width:90.20px;font-size:15.85px;line-height:19px;">$20K</div>
<div class="t b r" style="left:341.50px;top:632px;width:46.20px;font-size:15.85px;line-height:19px;">98%</div>
<div class="t b i c" style="left:391.00px;top:631px;width:191.00px;font-size:15.85px;line-height:19px;">Medicaid</div>
<div class="t b i c" style="left:582.00px;top:631px;width:345.00px;font-size:15.85px;line-height:19px;">Medicaid</div>
<div class="t b i c" style="left:1019.00px;top:631px;width:350.00px;font-size:15.85px;line-height:19px;">Medicaid</div>
<div class="t i l n" style="left:1372.50px;top:632px;width:176.50px;font-size:14.28px;line-height:18px;">Medicaid (both)</div>
<div class="t b r" style="left:248.00px;top:652px;width:90.20px;font-size:15.85px;line-height:19px;">$30K</div>
<div class="t b r" style="left:341.50px;top:652px;width:46.20px;font-size:15.85px;line-height:19px;">147%</div>
<div class="t b r" style="left:391.00px;top:652px;width:82.25px;font-size:15.85px;line-height:19px;">0.00%</div>
<div class="t b r" style="left:476.55px;top:652px;width:102.15px;font-size:15.85px;line-height:19px;">3.94%</div>
<div class="t b r" style="left:582.00px;top:652px;width:123.70px;font-size:15.85px;line-height:19px;">$0</div>
<div class="t b r" style="left:709.00px;top:652px;width:82.20px;font-size:15.85px;line-height:19px;">$0</div>
<div class="t b r" style="left:794.50px;top:652px;width:129.20px;font-size:15.85px;line-height:19px;">$99</div>
<div class="t b r" style="left:1019.00px;top:652px;width:80.25px;font-size:15.85px;line-height:19px;">$99</div>
<div class="t b r" style="left:1102.55px;top:652px;width:70.15px;font-size:15.85px;line-height:19px;">$1,182</div>
<div class="t i c n" style="left:1176.00px;top:652px;width:193.00px;font-size:16.0px;line-height:19px;">infinite</div>
<div class="t i l n" style="left:1372.50px;top:652px;width:236.50px;font-size:14.28px;line-height:18px;">CSR 94</div>
<div class="t b r" style="left:248.00px;top:672px;width:90.20px;font-size:15.85px;line-height:19px;">$40K</div>
<div class="t b r" style="left:341.50px;top:672px;width:46.20px;font-size:15.85px;line-height:19px;">196%</div>
<div class="t b r" style="left:391.00px;top:672px;width:82.25px;font-size:15.85px;line-height:19px;">1.83%</div>
<div class="t b r" style="left:476.55px;top:672px;width:102.15px;font-size:15.85px;line-height:19px;">6.41%</div>
<div class="t b r" style="left:582.00px;top:672px;width:123.70px;font-size:15.85px;line-height:19px;">$0</div>
<div class="t b r" style="left:709.00px;top:672px;width:82.20px;font-size:15.85px;line-height:19px;">$61</div>
<div class="t b r" style="left:794.50px;top:672px;width:129.20px;font-size:15.85px;line-height:19px;">$214</div>
<div class="t b r" style="left:1019.00px;top:672px;width:80.25px;font-size:15.85px;line-height:19px;">$153</div>
<div class="t b r" style="left:1102.55px;top:672px;width:70.15px;font-size:15.85px;line-height:19px;">$1,832</div>
<div class="t b r" style="left:1176.00px;top:672px;width:189.70px;font-size:15.85px;line-height:19px;">250%</div>
<div class="t i l n" style="left:1372.50px;top:672px;width:236.50px;font-size:14.28px;line-height:18px;">CSR 87</div>
<div class="t b r" style="left:248.00px;top:692px;width:90.20px;font-size:15.85px;line-height:19px;">$50K</div>
<div class="t b r" style="left:341.50px;top:692px;width:46.20px;font-size:15.85px;line-height:19px;">245%</div>
<div class="t b r" style="left:391.00px;top:692px;width:82.25px;font-size:15.85px;line-height:19px;">3.78%</div>
<div class="t b r" style="left:476.55px;top:692px;width:102.15px;font-size:15.85px;line-height:19px;">8.26%</div>
<div class="t b r" style="left:582.00px;top:692px;width:123.70px;font-size:15.85px;line-height:19px;">$0</div>
<div class="t b r" style="left:709.00px;top:692px;width:82.20px;font-size:15.85px;line-height:19px;">$158</div>
<div class="t b r" style="left:794.50px;top:692px;width:129.20px;font-size:15.85px;line-height:19px;">$344</div>
<div class="t b r" style="left:1019.00px;top:692px;width:80.25px;font-size:15.85px;line-height:19px;">$187</div>
<div class="t b r" style="left:1102.55px;top:692px;width:70.15px;font-size:15.85px;line-height:19px;">$2,240</div>
<div class="t b r" style="left:1176.00px;top:692px;width:189.70px;font-size:15.85px;line-height:19px;">119%</div>
<div class="t i l n" style="left:1372.50px;top:692px;width:236.50px;font-size:14.28px;line-height:18px;">CSR 73</div>
<div class="t b r" style="left:248.00px;top:712px;width:90.20px;font-size:15.85px;line-height:19px;">$60K</div>
<div class="t b r" style="left:341.50px;top:712px;width:46.20px;font-size:15.85px;line-height:19px;">294%</div>
<div class="t b r" style="left:391.00px;top:712px;width:82.25px;font-size:15.85px;line-height:19px;">5.74%</div>
<div class="t b r" style="left:476.55px;top:712px;width:102.15px;font-size:15.85px;line-height:19px;">9.78%</div>
<div class="t b r" style="left:582.00px;top:712px;width:123.70px;font-size:15.85px;line-height:19px;">$0</div>
<div class="t b r" style="left:709.00px;top:712px;width:82.20px;font-size:15.85px;line-height:19px;">$287</div>
<div class="t b r" style="left:794.50px;top:712px;width:129.20px;font-size:15.85px;line-height:19px;">$489</div>
<div class="t b r" style="left:1019.00px;top:712px;width:80.25px;font-size:15.85px;line-height:19px;">$202</div>
<div class="t b r" style="left:1102.55px;top:712px;width:70.15px;font-size:15.85px;line-height:19px;">$2,424</div>
<div class="t b r" style="left:1176.00px;top:712px;width:189.70px;font-size:15.85px;line-height:19px;">70%</div>
<div class="t i l n" style="left:1372.50px;top:712px;width:236.50px;font-size:14.28px;line-height:18px;">Turquoise</div>
<div class="t b r" style="left:248.00px;top:732px;width:90.20px;font-size:15.85px;line-height:19px;">$70K</div>
<div class="t b r" style="left:341.50px;top:732px;width:46.20px;font-size:15.85px;line-height:19px;">342%</div>
<div class="t b r" style="left:391.00px;top:732px;width:82.25px;font-size:15.85px;line-height:19px;">7.06%</div>
<div class="t b r" style="left:476.55px;top:732px;width:102.15px;font-size:15.85px;line-height:19px;">9.96%</div>
<div class="t b r" style="left:582.00px;top:732px;width:123.70px;font-size:15.85px;line-height:19px;">$0</div>
<div class="t b r" style="left:709.00px;top:732px;width:82.20px;font-size:15.85px;line-height:19px;">$412</div>
<div class="t b r" style="left:794.50px;top:732px;width:129.20px;font-size:15.85px;line-height:19px;">$581</div>
<div class="t b r" style="left:1019.00px;top:732px;width:80.25px;font-size:15.85px;line-height:19px;">$169</div>
<div class="t b r" style="left:1102.55px;top:732px;width:70.15px;font-size:15.85px;line-height:19px;">$2,030</div>
<div class="t b r" style="left:1176.00px;top:732px;width:189.70px;font-size:15.85px;line-height:19px;">41%</div>
<div class="t i l n" style="left:1372.50px;top:732px;width:236.50px;font-size:14.28px;line-height:18px;">Turquoise</div>
<div class="t b r" style="left:248.00px;top:752px;width:90.20px;font-size:15.85px;line-height:19px;">$80K</div>
<div class="t b r" style="left:341.50px;top:752px;width:46.20px;font-size:15.85px;line-height:19px;">391%</div>
<div class="t b r" style="left:391.00px;top:752px;width:82.25px;font-size:15.85px;line-height:19px;">8.28%</div>
<div class="t b r" style="left:476.55px;top:752px;width:102.15px;font-size:15.85px;line-height:19px;">9.96%</div>
<div class="t b r" style="left:582.00px;top:752px;width:123.70px;font-size:15.85px;line-height:19px;">$93</div>
<div class="t b r" style="left:709.00px;top:752px;width:82.20px;font-size:15.85px;line-height:19px;">$552</div>
<div class="t b r" style="left:794.50px;top:752px;width:129.20px;font-size:15.85px;line-height:19px;">$664</div>
<div class="t b r" style="left:1019.00px;top:752px;width:80.25px;font-size:15.85px;line-height:19px;">$112</div>
<div class="t b r" style="left:1102.55px;top:752px;width:70.15px;font-size:15.85px;line-height:19px;">$1,344</div>
<div class="t b r" style="left:1176.00px;top:752px;width:189.70px;font-size:15.85px;line-height:19px;">20%</div>
<div class="t i l n" style="left:1372.50px;top:752px;width:236.50px;font-size:14.28px;line-height:18px;">Turquoise</div>
<div class="t b r" style="left:248.00px;top:772px;width:90.20px;font-size:15.85px;line-height:19px;">$90K</div>
<div class="t b r" style="left:341.50px;top:772px;width:46.20px;font-size:15.85px;line-height:19px;">440%</div>
<div class="t b r" style="left:391.00px;top:772px;width:82.25px;font-size:15.85px;line-height:19px;">8.50%</div>
<div class="t b i c" style="left:476.55px;top:772px;width:105.45px;font-size:15.85px;line-height:19px;">no cap</div>
<div class="t b r" style="left:582.00px;top:772px;width:123.70px;font-size:15.85px;line-height:19px;">$637</div>
<div class="t b r" style="left:709.00px;top:772px;width:82.20px;font-size:15.85px;line-height:19px;">$637</div>
<div class="t b r" style="left:794.50px;top:772px;width:129.20px;font-size:15.85px;line-height:19px;">$3,579</div>
<div class="t b r" style="left:1019.00px;top:772px;width:80.25px;font-size:15.85px;line-height:19px;">$2,942</div>
<div class="t b r" style="left:1102.55px;top:772px;width:70.15px;font-size:15.85px;line-height:19px;">$35,304</div>
<div class="t b r" style="left:1176.00px;top:772px;width:189.70px;font-size:15.85px;line-height:19px;">462%</div>
<div class="t b c" style="left:927.80px;top:633px;width:92.00px;font-size:11.95px;line-height:16px;">2025 Full Price</div>
<div class="t b c" style="left:927.80px;top:652px;width:92.00px;font-size:15.85px;line-height:19px;">$2,645</div>
<div class="t b c" style="left:927.80px;top:692px;width:92.00px;font-size:11.95px;line-height:16px;">2026 Full Price</div>
<div class="t b c" style="left:927.80px;top:752px;width:92.00px;font-size:15.85px;line-height:19px;">$3,579</div>
</div></body></html>
